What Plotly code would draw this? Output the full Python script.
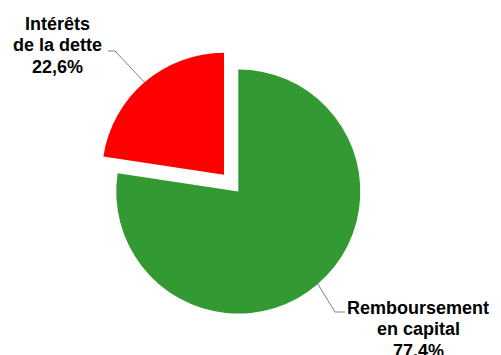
import math
import plotly.graph_objects as go

# Debt service split (percent)
labels = ["Remboursement en capital", "Intérêts de la dette"]
label_lines = [["Remboursement", "en capital"], ["Intérêts", "de la dette"]]
values = [77.4, 22.6]
colors = ["#339933", "#FF0000"]
pulls = [0.0, 0.18]

W, H = 501, 355
dom_x = [0.1882, 0.7631]
dom_y = [0.0550, 0.8662]

fig = go.Figure(go.Pie(
    labels=labels,
    values=values,
    marker=dict(colors=colors, line=dict(width=0)),
    pull=pulls,
    sort=False,
    direction="clockwise",
    rotation=0,
    textinfo="none",
    hoverinfo="label+percent",
    showlegend=False,
    domain=dict(x=dom_x, y=dom_y),
))

# Pie geometry in pixels (same rules plotly uses to size the pie)
cx = W * (dom_x[0] + dom_x[1]) / 2
cy = H * (1 - (dom_y[0] + dom_y[1]) / 2)
r = min(W * (dom_x[1] - dom_x[0]), H * (dom_y[1] - dom_y[0])) / 2 / (1 + max(pulls))

def px(x, y):
    return x / W, 1 - y / H

# Label block placement: (center x, first line center y, elbow point, end point)
label_style = [
    dict(x=418, y0=307.7, elbow=(335, 312), end=(345, 312)),
    dict(x=57, y0=23.5, elbow=(115, 51), end=(108, 51)),
]
line_gap = 21.6

total = sum(values)
start = 0.0
annotations = []
shapes = []
for i, v in enumerate(values):
    frac = v / total
    mid = (start + frac / 2) * 2 * math.pi
    start += frac
    dx, dy = math.sin(mid), -math.cos(mid)
    ox = cx + pulls[i] * r * dx
    oy = cy + pulls[i] * r * dy
    ax, ay = ox + r * dx, oy + r * dy
    st = label_style[i]
    text_lines = label_lines[i] + [f"{v:.1f}".replace(".", ",") + "%"]
    for k, t in enumerate(text_lines):
        xp, yp = px(st["x"], st["y0"] + k * line_gap)
        annotations.append(dict(
            x=xp, y=yp, xref="paper", yref="paper",
            text=t, showarrow=False, xanchor="center", yanchor="middle",
            font=dict(family="Liberation Sans, Arial, sans-serif", size=18,
                      color="#000000", weight="bold"),
        ))
    p0 = px(ax, ay)
    p1 = px(*st["elbow"])
    p2 = px(*st["end"])
    shapes.append(dict(
        type="path", xref="paper", yref="paper",
        path=f"M {p0[0]} {p0[1]} L {p1[0]} {p1[1]} L {p2[0]} {p2[1]}",
        line=dict(color="#808080", width=1),
    ))

fig.update_layout(
    width=W, height=H,
    margin=dict(l=0, r=0, t=0, b=0),
    paper_bgcolor="#FFFFFF",
    plot_bgcolor="#FFFFFF",
    annotations=annotations,
    shapes=shapes,
)

fig.write_html("out.html")
